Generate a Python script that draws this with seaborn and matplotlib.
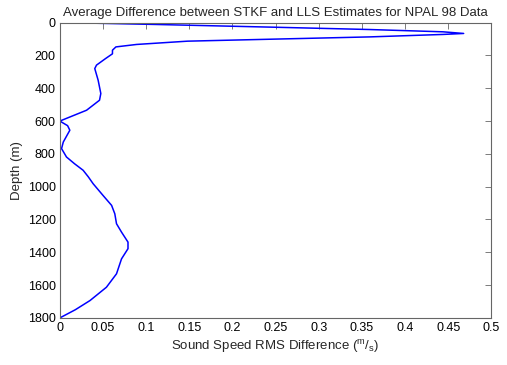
import numpy as np
import pandas as pd
import seaborn as sns
import matplotlib
matplotlib.use("Agg")
import matplotlib.pyplot as plt
from matplotlib.ticker import FuncFormatter

sns.set_style("white")
plt.rcParams["font.family"] = ["Liberation Sans", "DejaVu Sans"]
plt.rcParams["mathtext.fontset"] = "custom"
plt.rcParams["mathtext.rm"] = "Liberation Sans"
plt.rcParams["mathtext.it"] = "Liberation Sans"

# values (depth in m, RMS difference in m/s)
depth = [0, 11, 28, 42, 56, 66, 72, 87, 101, 113, 133, 148, 168, 190, 219,
         259, 280, 351, 432, 473, 534, 600, 628, 656, 690, 728, 768, 819, 860,
         900, 940, 982, 1053, 1114, 1165, 1226, 1277, 1338, 1378, 1440, 1531,
         1613, 1694, 1750, 1800]
rms_diff = [0.008, 0.11, 0.249, 0.359, 0.444, 0.468, 0.444, 0.359, 0.245, 0.148,
            0.089, 0.065, 0.061, 0.061, 0.053, 0.0425, 0.0405, 0.0444, 0.0475,
            0.046, 0.031, 0.0, 0.009, 0.0116, 0.008, 0.004, 0.002, 0.0077,
            0.017, 0.027, 0.033, 0.0386, 0.050, 0.060, 0.0637, 0.0657, 0.0715,
            0.079, 0.079, 0.0715, 0.0657, 0.054, 0.035, 0.018, 0.0]

df = pd.DataFrame({"depth": depth, "rms": rms_diff})

fig = plt.figure(figsize=(5.07, 3.65), dpi=100)
ax = fig.add_axes([0.118, 0.129, 0.851, 0.809])

sns.lineplot(data=df, x="rms", y="depth", sort=False, estimator=None,
             color="#0000ff", linewidth=1.1, ax=ax)

ax.set_xlim(0, 0.5)
ax.set_ylim(1800, 0)
ax.set_xticks(np.arange(0, 0.51, 0.05))
ax.set_yticks(np.arange(0, 1801, 200))
ax.xaxis.set_major_formatter(FuncFormatter(lambda v, p: "%g" % round(v, 2)))
ax.tick_params(direction="in", length=4, width=0.6, color="#666666",
               top=True, right=True, labelsize=9, pad=3, labelcolor="black")
for s in ax.spines.values():
    s.set_color("#666666")
    s.set_linewidth(0.8)

ax.set_title("Average Difference between STKF and LLS Estimates for NPAL 98 Data",
             fontsize=9.5, pad=5)
ax.set_xlabel(r"Sound Speed RMS Difference ($^{\rm m}/_{\rm s}$)", fontsize=9.5, labelpad=3)
ax.set_ylabel("Depth (m)", fontsize=9.5, labelpad=3)

fig.savefig("out.png", dpi=100, facecolor="white")
